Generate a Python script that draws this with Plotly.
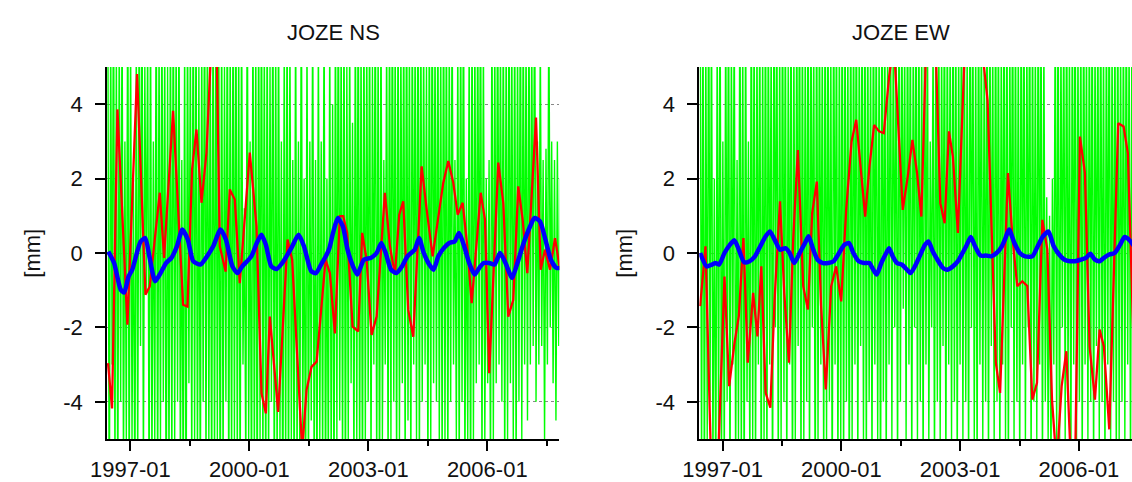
import plotly.graph_objects as go

# ---------------- data ----------------
# daily-ish green series (values read as envelope of the dense green strokes)
GREEN_START = 1996.43
GREEN_END = 2007.84

NS_GREEN = [
    7, -8, 6, -3, 8, -6, 5.5, -7, 6, -4, 7, -6, 3, -5, 8, -7,
    6, -5, 2, -7, 6, -6, 7, -2.5, 8, -6, 5, -1, 6, -7, 7, -6, 3, -5, 8, -7, 6, -5, 7, -4, 6, -8, 5, -6,
    7, -6, 8, -5, 6, -4, 7, -6, 2.5, -7, 6, -8, 7, -3.5, 6, -6, 8, -5, 7, -6, 5, -7, 6, -4, 8, -6, 7, -5,
    6, -7, 8, -6, 7, -5, 6, -8, 7, -6, 5, -4, 8, -7, 6, -6, 7, -5, 8, -6, 6, -7, 7, -3, 1.2, -6, 8, -5,
    3, -7, 7, -6, 6, -8, 7, -5, 8, -6, 6, -7, 7, -6, 5, -4, 8, -7, 6, -6, 7, -5, 3, -8, 6, -6, 7, -7,
    6, -5, 2.5, -7, 7, -6, 3, -6, 8, -5, 2, -7, 6, -6, 3, -4.5, 7, -6, 2.5, -7, 6, -5, 3, -6, 7, -7, 2, -6,
    6, -6, 4, -7, 7, -5, 8, -4.5, 6, -6, 7, -7, 5, -5, 6, -3.5, 3.5, -6, 7, -5, 8, -6, 6, -7, 7, -5, 6, -4,
    7, -6, 5, -3, 8, -6, 6, -7, 7, -5, 2.5, -3, 6, -6, 7, -5, 8, -4, 6, -6, 7, -5, 6, -3.5, 7, -6, 8, -4.5,
    6, -6, 7, -3, 6, -5, 8, -6, 7, -4, 6, -3, 5, -6, 7, -5, 8, -3.5, 6, -4, 7, -5, 6, -6, 8, -5, 7, -6,
    6, -4, 7, -3, 2.5, -5, 6, -6, 7, -4, 8, -6, 2, -5, 6, -7, 7, -5, 6, -3.5, 7, -3, 8, -6, 6, -5, 2, -3.5,
    2.5, -6, 7, -5, 6, -3.5, 8, -3, 6, -4, 7, -6, 6, -5, 8, -3.5, 6, -5, 7, -6, 6, -4, 8, -5, 7, -3, 6, -4.5,
    7, -3, 6, -2.5, 8, -4, 3, -3, 6, -2.5, 2.5, -5, 2.8, -3, 7, -2, 3, -3.5, 2.5, -4.5, 3, -2.5, 2,
]

EW_GREEN = [
    8, -6, 7, -7, 6, -5, 8, -4, 7, -6, 2, -7, 6, -5, 8, -6,
    3, -6, 7, -4, 8, -7, 6, -3, 7, -6, 2.5, -5, 8, -6, 6, -7, 7, -4, 3, -6, 8, -5, 7, -6, 6, -3, 7, -7,
    6, -5, 8, -6, 7, -3, 6, -7, 8, -2, 7, -6, 6, -5, 8, -4, 7, -6, 5, -3, 8, -7, 6, -5, 7, -2.5, 8, -6,
    7, -5, 6, -4, 8, -6, 7, -2, 6, -7, 8, -5, 7, -3, 6, -6, 8, -5, 7, -4, 6, -7, 8, -3, 7, -6, 6, -5,
    8, -6, 7, -4, 6, -7, 8, -5, 7, -3, 8, -6, 6, -2.5, 7, -5, 8, -6, 7, -4, 6, -6, 8, -3, 7, -5, 6, -7,
    8, -4, 7, -6, 6, -3, 8, -5, 7, -2, 6, -6, 8, -4, 7, -1.5, 6, -5, 8, -3, 7, -6, 6, -2, 8, -5, 7, -4,
    6, -6, 8, -3, 7, -5, 3, -2, 6, -6, 8, -4, 7, -5, 6, -2.5, 8, -6, 7, -3, 6, -5, 8, -4, 7, -6, 6, -3,
    8, -5, 7, -4, 6, -6, 8, -2, 7, -5, 6, -6, 8, -3, 7, -5, 6, -4, 8, -6, 7, -2.5, 6, -5, 8, -4, 7, -6,
    6, -3, 8, -5, 7, -6, 6, -2, 8, -5, 7, -4, 6, -6, 8, -3, 7, -5, 6, -2, 8, -6, 7, -4, 6, -5, 8, -3,
    7, -6, 6, -4, 1.5, -5, 1, -6, 2, -3, 7, -5, 8, -6, 6, -2, 7, -5, 8, -4, 6, -6, 7, -3, 8, -5, 6, -4,
    7, -6, 8, -3, 6, -5, 7, -4, 8, -6, 6, -2.5, 7, -5, 8, -4, 6, -6, 7, -3, 8, -5, 6, -4, 7, -6, 8, -5,
    6, -4, 7, -5, 8, -3, 6, -6, 7, -4, 8, -5, 6, -3, 7, -6, 8, -4, 6, -5, 7, -3, 6,
]

# monthly (red) series: time (decimal year) and value [mm]
NS_RED_T = [1996.435, 1996.536, 1996.672, 1996.924, 1997.167, 1997.379, 1997.487, 1997.740,
            1997.849, 1998.076, 1998.328, 1998.439, 1998.555, 1998.666, 1998.792, 1998.918,
            1999.027, 1999.10, 1999.18, 1999.254, 1999.40, 1999.506, 1999.632, 1999.758,
            2000.011, 2000.180, 2000.306, 2000.415, 2000.516, 2000.726, 2000.963, 2001.079,
            2001.332, 2001.442, 2001.568, 2001.695, 2001.922, 2002.03, 2002.157, 2002.28,
            2002.366, 2002.467, 2002.603, 2002.745, 2002.846, 2002.957, 2003.083, 2003.209,
            2003.418, 2003.545, 2003.671, 2003.780, 2003.881, 2004.007, 2004.133, 2004.345,
            2004.471, 2004.622, 2004.891, 2005.017, 2005.143, 2005.253, 2005.379, 2005.496,
            2005.607, 2005.834, 2005.942, 2006.050, 2006.278, 2006.404, 2006.530, 2006.656,
            2006.782, 2006.893, 2007.010, 2007.230, 2007.348, 2007.457, 2007.583, 2007.709,
            2007.835]
NS_RED_V = [-2.96, -4.18, 3.86, -1.93, 4.81, -1.12, -0.9, 1.62,
            -0.13, 3.82, -1.39, -1.44, 2.25, 3.32, 1.35, 2.70,
            5.3, 5.4, 5.2, 0.18, -0.5, 1.71, 1.44, -0.81,
            2.70, 0.72, -3.77, -4.31, -1.71, -4.27, 0.36, -0.18,
            -5.3, -3.68, -3.06, -2.92, -0.18, -0.54, -2.16, 0.99,
            0.99, 0.54, -1.98, -2.11, 0.54, -0.18, -2.20, -1.71,
            1.62, 0.18, -0.58, 1.03, 1.39, -1.53, -2.25, 2.33,
            1.17, -0.09, 1.89, 2.47, 1.89, 1.03, 1.35, 0.18,
            -1.35, 1.62, 0.90, -3.23, 2.43, 1.35, -1.71, -1.26,
            1.79, 0.90, -0.54, 3.64, -0.45, 0.09, -0.45, 0.40,
            -0.45]

EW_RED_T = [1996.430, 1996.566, 1996.729, 1996.864, 1997.045, 1997.163, 1997.298, 1997.407,
            1997.524, 1997.633, 1997.769, 1997.877, 1997.976, 1998.085, 1998.203, 1998.311,
            1998.447, 1998.555, 1998.673, 1998.781, 1998.899, 1999.034, 1999.152, 1999.260,
            1999.378, 1999.486, 1999.604, 1999.740, 1999.866, 1999.993, 2000.119, 2000.255,
            2000.373, 2000.481, 2000.599, 2000.708, 2000.825, 2000.951, 2001.069, 2001.204,
            2001.322, 2001.548, 2001.675, 2001.792, 2001.910, 2002.018, 2002.136, 2002.271,
            2002.380, 2002.497, 2002.606, 2002.714, 2002.814, 2002.941, 2003.058, 2003.130,
            2003.374, 2003.600, 2003.691, 2003.899, 2004.007, 2004.206, 2004.324, 2004.441,
            2004.568, 2004.695, 2004.821, 2004.939, 2005.074, 2005.201, 2005.318, 2005.436,
            2005.562, 2005.680, 2005.797, 2005.906, 2006.024, 2006.150, 2006.268, 2006.403,
            2006.521, 2006.629, 2006.765, 2006.883, 2006.991, 2007.127, 2007.235, 2007.370]
EW_RED_V = [-1.43, 0.18, -6.6, -6.2, -0.63, -3.58, -2.42, -1.70,
            0.40, -2.95, -1.07, -2.24, -0.36, -3.76, -4.16, -1.25,
            1.39, -1.07, -2.95, 0.36, 2.77, -0.89, -1.52, 1.07,
            1.92, -1.43, -3.67, -0.89, -0.36, -1.30, 1.16, 3.00,
            3.58, 2.33, 0.98, 2.33, 3.44, 3.27, 3.22, 4.74,
            5.7, 1.16, 2.06, 3.04, 2.15, 0.98, 5.5, 6.1,
            5.5, 1.34, 0.80, 3.27, 2.60, 0.54, 3.40, 5.9,
            6.3, 5.0, 4.1, -2.95, -3.76, 2.15, 0.36, -0.89,
            -0.76, -0.89, -3.94, -3.49, 0.89, 0.09, -3.94, -5.7,
            -3.58, -2.64, -5.7, -5.5, 3.13, 2.15, -2.51, -3.94,
            -2.06, -2.51, -4.74, -0.09, 3.49, 3.40, 2.68, -2.1]

# smoothed (blue) series
NS_BLUE_T = [1996.441, 1996.588, 1996.753, 1996.844, 1996.954, 1997.046, 1997.256, 1997.375,
             1997.485, 1997.623, 1997.760, 1997.897, 1998.035, 1998.172, 1998.310, 1998.447,
             1998.584, 1998.767, 1998.905, 1999.088, 1999.271, 1999.408, 1999.573, 1999.701,
             1999.821, 2000.049, 2000.187, 2000.306, 2000.416, 2000.553, 2000.691, 2000.828,
             2001.057, 2001.240, 2001.377, 2001.560, 2001.679, 2001.808, 2001.927, 2002.018,
             2002.110, 2002.229, 2002.357, 2002.476, 2002.614, 2002.723, 2002.888, 2003.071,
             2003.209, 2003.328, 2003.438, 2003.575, 2003.712, 2003.850, 2003.987, 2004.170,
             2004.280, 2004.399, 2004.537, 2004.647, 2004.766, 2004.903, 2005.040, 2005.178,
             2005.288, 2005.407, 2005.544, 2005.681, 2005.800, 2005.910, 2006.048, 2006.185,
             2006.322, 2006.460, 2006.625, 2006.734, 2006.918, 2007.082, 2007.192, 2007.330,
             2007.467, 2007.604, 2007.742, 2007.879]
NS_BLUE_V = [0.04, -0.27, -0.98, -1.06, -0.63, -0.45, 0.31, 0.40,
             -0.13, -0.76, -0.54, -0.27, -0.13, 0.18, 0.63, 0.36,
             -0.22, -0.31, -0.13, 0.18, 0.63, 0.36, -0.36, -0.54,
             -0.36, -0.09, 0.27, 0.49, 0.22, -0.36, -0.43, -0.27,
             0.13, 0.49, 0.18, -0.49, -0.54, -0.31, -0.09, 0.13,
             0.54, 0.94, 0.72, 0.09, -0.36, -0.58, -0.18, -0.13,
             0.00, 0.27, 0.00, -0.45, -0.54, -0.36, -0.09, 0.09,
             0.40, 0.00, -0.31, -0.45, -0.09, 0.13, 0.27, 0.31,
             0.54, 0.22, -0.27, -0.58, -0.40, -0.27, -0.27, -0.31,
             0.00, -0.27, -0.67, -0.36, 0.27, 0.72, 0.94, 0.85,
             0.36, -0.18, -0.40, -0.40]

EW_BLUE_T = [1996.430, 1996.593, 1996.729, 1996.819, 1996.910, 1997.045, 1997.181, 1997.298,
             1997.407, 1997.542, 1997.678, 1997.814, 1997.949, 1998.085, 1998.193, 1998.311,
             1998.447, 1998.582, 1998.691, 1998.808, 1998.944, 1999.080, 1999.170, 1999.288,
             1999.396, 1999.532, 1999.667, 1999.803, 1999.939, 2000.074, 2000.192, 2000.300,
             2000.436, 2000.571, 2000.707, 2000.779, 2000.888, 2001.006, 2001.132, 2001.204,
             2001.295, 2001.403, 2001.521, 2001.656, 2001.747, 2001.855, 2001.973, 2002.109,
             2002.199, 2002.307, 2002.425, 2002.561, 2002.669, 2002.814, 2002.941, 2003.058,
             2003.149, 2003.266, 2003.374, 2003.510, 2003.646, 2003.781, 2003.917, 2004.052,
             2004.143, 2004.233, 2004.369, 2004.505, 2004.640, 2004.821, 2004.957, 2005.092,
             2005.228, 2005.363, 2005.499, 2005.635, 2005.770, 2005.906, 2006.042, 2006.177,
             2006.286, 2006.403, 2006.521, 2006.629, 2006.765, 2006.901, 2007.036, 2007.154,
             2007.262, 2007.398]
EW_BLUE_V = [0.00, -0.36, -0.31, -0.27, -0.31, 0.00, 0.22, 0.34,
             0.09, -0.25, -0.22, -0.09, 0.18, 0.45, 0.58, 0.36,
             0.09, 0.13, 0.00, -0.27, 0.00, 0.27, 0.45, 0.09,
             -0.18, -0.27, -0.27, -0.22, 0.00, 0.22, 0.27, 0.00,
             -0.22, -0.27, -0.27, -0.40, -0.58, -0.27, 0.00, 0.13,
             -0.09, -0.27, -0.31, -0.45, -0.54, -0.36, -0.09, 0.22,
             0.31, 0.04, -0.18, -0.40, -0.45, -0.36, -0.22, 0.00,
             0.18, 0.43, 0.18, -0.07, -0.07, -0.09, 0.00, 0.18,
             0.40, 0.63, 0.27, 0.00, -0.09, -0.09, 0.18, 0.45,
             0.58, 0.18, -0.04, -0.18, -0.22, -0.22, -0.18, -0.13,
             -0.02, -0.18, -0.22, -0.13, -0.04, 0.00, 0.22, 0.43,
             0.36, 0.18]

TITLES = ["JOZE NS", "JOZE EW"]
Y_LABEL = "[mm]"
X_TICKS = [1997, 2000, 2003, 2006]
X_TICKTEXT = ["1997-01", "2000-01", "2003-01", "2006-01"]
Y_TICKS = [-4, -2, 0, 2, 4]
Y_TICKTEXT = ["-4", "-2", "0", "2", "4"]


def green_times(n):
    step = (GREEN_END - GREEN_START) / (n - 1)
    return [GREEN_START + i * step for i in range(n)]


# ---------------- figure ----------------
W, H = 1132, 482
ML, MR, MT, MB = 107, 0, 67, 43
PW = W - ML - MR
PH = H - MT - MB

def px_to_paper_x(px):
    return (px - ML) / PW

def px_to_paper_y(py):
    return (H - MB - py) / PH

dom1 = [0, px_to_paper_x(559.3)]
dom2 = [px_to_paper_x(699.3), 1.0]

GREEN = "#00ff00"
RED = "#ff0000"
BLUE = "#0000ff"

fig = go.Figure()
panels = [
    (NS_GREEN, NS_RED_T, NS_RED_V, NS_BLUE_T, NS_BLUE_V, "x", "y"),
    (EW_GREEN, EW_RED_T, EW_RED_V, EW_BLUE_T, EW_BLUE_V, "x2", "y2"),
]
for g, rt, rv, bt, bv, xa, ya in panels:
    fig.add_trace(go.Scatter(x=green_times(len(g)), y=g, mode="lines",
                             line=dict(color=GREEN, width=1.4, simplify=False),
                             xaxis=xa, yaxis=ya, showlegend=False, hoverinfo="skip"))
    fig.add_trace(go.Scatter(x=rt, y=rv, mode="lines",
                             line=dict(color=RED, width=2.3), xaxis=xa, yaxis=ya,
                             showlegend=False))
    fig.add_trace(go.Scatter(x=bt, y=bv, mode="lines",
                             line=dict(color=BLUE, width=4.5, shape="spline", smoothing=0.6),
                             xaxis=xa, yaxis=ya, showlegend=False))

FONT = "Liberation Sans, Arial, sans-serif"
axis_common = dict(
    showline=True, linecolor="black", linewidth=1.8,
    ticks="outside", ticklen=10, tickwidth=1.5, tickcolor="black",
    tickfont=dict(family=FONT, size=22, color="#111"),
    zeroline=False, mirror=False,
)
xcommon = dict(axis_common, tickmode="array", tickvals=X_TICKS, ticktext=X_TICKTEXT,
               showgrid=False,
               minor=dict(tick0=1998.5, dtick=3, ticks="outside", ticklen=5,
                          tickwidth=1.5, tickcolor="black", showgrid=False))
ycommon = dict(axis_common, tickmode="array", tickvals=Y_TICKS, ticktext=Y_TICKTEXT,
               range=[-5, 5], showgrid=True, gridcolor="#888888", griddash="dot",
               gridwidth=1, ticklabelstandoff=8)

fig.update_layout(
    width=W, height=H,
    margin=dict(l=ML, r=MR, t=MT, b=MB, pad=0),
    paper_bgcolor="white", plot_bgcolor="white",
    xaxis=dict(xcommon, domain=dom1, range=[1996.409, 2007.817], anchor="y"),
    yaxis=dict(ycommon, domain=[0, 1], anchor="x"),
    xaxis2=dict(xcommon, domain=dom2, range=[1996.409, 2007.339], anchor="y2"),
    yaxis2=dict(ycommon, domain=[0, 1], anchor="x2"),
    font=dict(family=FONT, color="#111"),
)

annos = [
    dict(text=TITLES[0], x=px_to_paper_x(333.3), y=px_to_paper_y(32.4)),
    dict(text=TITLES[1], x=px_to_paper_x(900.5), y=px_to_paper_y(32.4)),
    dict(text=Y_LABEL, x=px_to_paper_x(31.7), y=px_to_paper_y(253), textangle=-90),
    dict(text=Y_LABEL, x=px_to_paper_x(623.7), y=px_to_paper_y(253), textangle=-90),
]
for a in annos:
    fig.add_annotation(xref="paper", yref="paper", showarrow=False,
                       xanchor="center", yanchor="middle",
                       font=dict(family=FONT, size=22, color="#111"), **a)

fig.write_html(
    "out.html",
    config={"displayModeBar": False},
    post_script="document.body.style.margin='0';document.body.style.overflow='hidden';",
)
